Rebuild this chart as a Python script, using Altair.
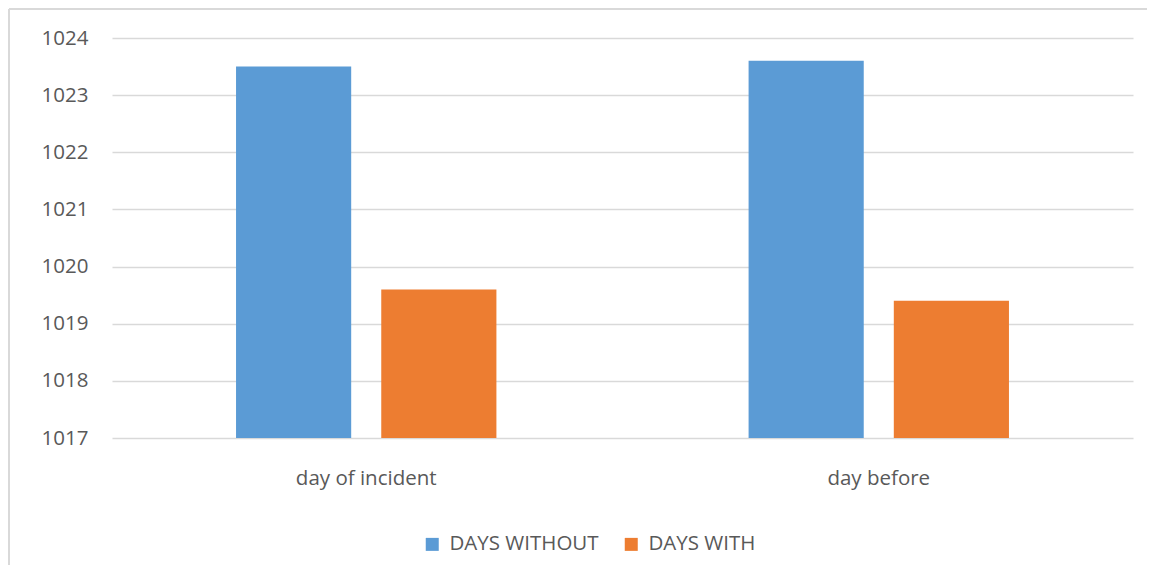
import altair as alt
import pandas as pd

categories = ["day of incident", "day before"]
series = ["DAYS WITHOUT", "DAYS WITH"]
days_without = [1023.5, 1023.6]
days_with = [1019.6, 1019.4]
y_ticks = [1017, 1018, 1019, 1020, 1021, 1022, 1023, 1024]
colors = ["#5B9BD5", "#ED7D31"]

rows = []
for i, c in enumerate(categories):
    rows.append({"day": c, "series": series[0], "value": days_without[i]})
    rows.append({"day": c, "series": series[1], "value": days_with[i]})
df = pd.DataFrame(rows)

FONT = "Open Sans"
TXT = "#595959"
FS = 20.5

bars = alt.Chart(df).mark_bar().encode(
    x=alt.X(
        "day:N",
        sort=categories,
        scale=alt.Scale(paddingInner=0.492, paddingOuter=0.242),
        axis=alt.Axis(title=None, labelAngle=0, ticks=False, domain=False,
                      labelPadding=30, labelFontSize=FS, labelColor=TXT,
                      labelFont=FONT, grid=False),
    ),
    xOffset=alt.XOffset(
        "series:N", sort=series,
        scale=alt.Scale(paddingInner=0.207, paddingOuter=0),
    ),
    y=alt.Y(
        "value:Q",
        scale=alt.Scale(domain=[1017, 1024], zero=False, nice=False),
        axis=alt.Axis(title=None, values=y_ticks, format="d", ticks=False,
                      domain=False, grid=True, gridColor="#D9D9D9",
                      gridWidth=1.3, labelPadding=24, labelFontSize=FS,
                      labelColor=TXT, labelFont=FONT),
    ),
    y2=alt.datum(1017),
    color=alt.Color(
        "series:N",
        sort=series,
        scale=alt.Scale(domain=series, range=colors),
        legend=alt.Legend(title=None, orient="none", direction="horizontal",
                          legendX=310, legendY=496, symbolType="square",
                          symbolSize=169, symbolStrokeWidth=0,
                          labelFontSize=FS, labelColor=TXT, labelFont=FONT,
                          columnPadding=22, labelOffset=7),
    ),
)

# light chart-area frame (top and left edges, as in the reference crop)
frame_top = alt.Chart(df).mark_rule(color="#D9D9D9", strokeWidth=1.5).encode(
    x=alt.value(-103), x2=alt.value(1080), y=alt.value(-29)
)
frame_left = alt.Chart(df).mark_rule(color="#D9D9D9", strokeWidth=1.5).encode(
    x=alt.value(-103), y=alt.value(-29), y2=alt.value(580)
)

chart = alt.layer(bars, frame_top, frame_left).properties(
    width=1021,
    height=400,
    autosize=alt.AutoSizeParams(type="none"),
    padding={"left": 104, "top": 30, "right": 14, "bottom": 127},
).configure(font=FONT, view=alt.ViewConfig(stroke=None))

chart.save("out.html", embed_options={"renderer": "svg", "actions": False})
